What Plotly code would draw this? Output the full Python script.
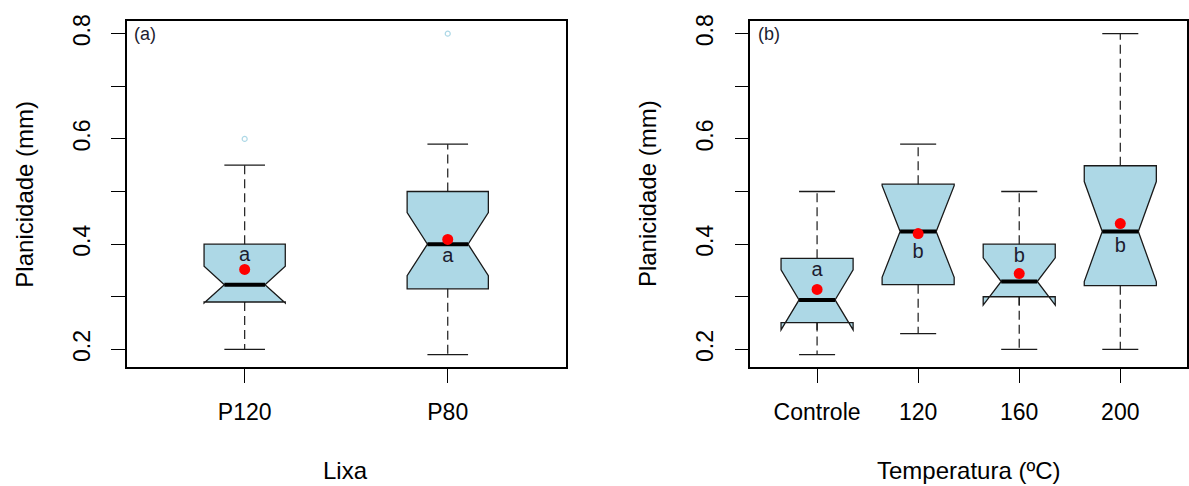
import plotly.graph_objects as go

W, H = 1189, 486

# ---------------- data: panel (a) Lixa ----------------
groups_a = ["P120", "P80"]
q1_a = [0.290, 0.315]
med_a = [0.323, 0.400]
q3_a = [0.400, 0.500]
lo_a = [0.200, 0.190]
hi_a = [0.550, 0.590]
notch_a = [0.035, 0.060]
mean_a = [0.352, 0.409]
out_grp_a = ["P120", "P80"]
out_val_a = [0.600, 0.800]
letters_a = ["a", "a"]
letter_y_a = [0.378, 0.375]

# ---------------- data: panel (b) Temperatura ----------------
groups_b = ["Controle", "120", "160", "200"]
q1_b = [0.251, 0.323, 0.300, 0.321]
med_b = [0.294, 0.424, 0.329, 0.424]
q3_b = [0.373, 0.514, 0.400, 0.549]
lo_b = [0.190, 0.230, 0.200, 0.200]
hi_b = [0.500, 0.590, 0.500, 0.800]
notch_b = [0.057, 0.087, 0.045, 0.095]
mean_b = [0.314, 0.420, 0.344, 0.439]
letters_b = ["a", "b", "b", "b"]
letter_y_b = [0.349, 0.3825, 0.375, 0.395]

y_ticks = [0.2, 0.3, 0.4, 0.5, 0.6, 0.7, 0.8]
y_tick_labels = ["0.2", "", "0.4", "", "0.6", "", "0.8"]

FONT = "Liberation Sans, Arial, sans-serif"
BOX_FILL = "lightblue"
EDGE = "#1a1a1a"

fig = go.Figure()


def add_panel(groups, q1, med, q3, lo, hi, notch, mean, letters, letter_y,
              width, xa, ya, out_grp=None, out_val=None):
    pos = list(range(1, len(groups) + 1))
    cap = width / 4.0
    # dashed whiskers
    wx, wy = [], []
    for p, a, b, c, d in zip(pos, q1, lo, q3, hi):
        wx += [p, p, None, p, p, None]
        wy += [c, d, None, a, b, None]
    fig.add_trace(go.Scatter(x=wx, y=wy, mode="lines", xaxis=xa, yaxis=ya,
                             line=dict(color=EDGE, width=1.2, dash="9px,5px"),
                             hoverinfo="skip", showlegend=False))
    # whisker caps
    cx, cy = [], []
    for p, b, d in zip(pos, lo, hi):
        cx += [p - cap, p + cap, None, p - cap, p + cap, None]
        cy += [d, d, None, b, b, None]
    fig.add_trace(go.Scatter(x=cx, y=cy, mode="lines", xaxis=xa, yaxis=ya,
                             line=dict(color=EDGE, width=1.3),
                             hoverinfo="skip", showlegend=False))
    # notched boxes
    fig.add_trace(go.Box(x=pos, q1=q1, median=med, q3=q3,
                         lowerfence=q1, upperfence=q3, notchspan=notch,
                         notched=True, notchwidth=0.25, width=width,
                         whiskerwidth=0, orientation="v",
                         fillcolor=BOX_FILL, line=dict(color=EDGE, width=1.3),
                         boxpoints=False, xaxis=xa, yaxis=ya,
                         hoverinfo="skip", showlegend=False))
    # thick medians
    mx, my = [], []
    for p, m in zip(pos, med):
        mx += [p - cap, p + cap, None]
        my += [m, m, None]
    fig.add_trace(go.Scatter(x=mx, y=my, mode="lines", xaxis=xa, yaxis=ya,
                             line=dict(color="black", width=4),
                             hoverinfo="skip", showlegend=False))
    # outliers
    if out_grp:
        ox = [groups.index(g) + 1 for g in out_grp]
        fig.add_trace(go.Scatter(x=ox, y=out_val, mode="markers", xaxis=xa, yaxis=ya,
                                 marker=dict(symbol="circle-open", size=5,
                                             color="lightblue", line=dict(width=1.2)),
                                 hoverinfo="skip", showlegend=False))
    # means
    fig.add_trace(go.Scatter(x=pos, y=mean, mode="markers", xaxis=xa, yaxis=ya,
                             marker=dict(symbol="circle", size=11, color="red"),
                             hoverinfo="skip", showlegend=False))
    # letters
    fig.add_trace(go.Scatter(x=pos, y=letter_y, mode="text", text=letters,
                             xaxis=xa, yaxis=ya,
                             textfont=dict(family=FONT, size=20, color="#1c1c30"),
                             hoverinfo="skip", showlegend=False))
    return pos


pos_a = add_panel(groups_a, q1_a, med_a, q3_a, lo_a, hi_a, notch_a, mean_a,
                  letters_a, letter_y_a, 0.40, "x", "y", out_grp_a, out_val_a)
pos_b = add_panel(groups_b, q1_b, med_b, q3_b, lo_b, hi_b, notch_b, mean_b,
                  letters_b, letter_y_b, 0.713, "x2", "y2")

y_dom = [1 - 366 / H, 1 - 15 / H]

common_x = dict(ticks="outside", ticklen=14, tickwidth=1.3, tickcolor="black",
                showline=True, mirror=True, linecolor="black", linewidth=1.5,
                showgrid=False, zeroline=False,
                tickfont=dict(family=FONT, size=23, color="black"),
                ticklabelstandoff=9)
common_y = dict(ticks="outside", ticklen=14, tickwidth=1.3, tickcolor="black",
                showline=True, mirror=True, linecolor="black", linewidth=1.5,
                showgrid=False, zeroline=False, range=[0.1656, 0.8244],
                tickvals=y_ticks, ticktext=y_tick_labels, tickangle=-90,
                tickfont=dict(family=FONT, size=23, color="black"),
                ticklabelstandoff=12, domain=y_dom)

fig.update_layout(
    width=W, height=H,
    margin=dict(l=0, r=0, t=0, b=0),
    paper_bgcolor="white", plot_bgcolor="white",
    showlegend=False,
    xaxis=dict(domain=[127 / W, 566 / W], range=[0.42, 2.58], anchor="y",
               tickvals=pos_a, ticktext=groups_a, **common_x),
    yaxis=dict(anchor="x", **common_y),
    xaxis2=dict(domain=[751 / W, 1188 / W], range=[0.34, 4.66], anchor="y2",
                tickvals=pos_b, ticktext=groups_b, **common_x),
    yaxis2=dict(anchor="x2", **common_y),
)

ann = []
for xc in (25, 648):
    ann.append(dict(text="Planicidade (mm)", x=xc / W, y=1 - 190 / H, xref="paper", yref="paper",
                    textangle=-90, showarrow=False, xanchor="center", yanchor="middle",
                    font=dict(family=FONT, size=24, color="black")))
ann.append(dict(text="Lixa", x=346 / W, y=1 - 470 / H, xref="paper", yref="paper",
                showarrow=False, xanchor="center", yanchor="middle",
                font=dict(family=FONT, size=24, color="black")))
ann.append(dict(text="Temperatura (ºC)", x=969.5 / W, y=1 - 470 / H, xref="paper", yref="paper",
                showarrow=False, xanchor="center", yanchor="middle",
                font=dict(family=FONT, size=24, color="black")))
ann.append(dict(text="(a)", x=132 / W, y=1 - 28.5 / H, xref="paper", yref="paper",
                showarrow=False, xanchor="left", yanchor="middle",
                font=dict(family=FONT, size=18, color="#1c1c30")))
ann.append(dict(text="(b)", x=757 / W, y=1 - 28.5 / H, xref="paper", yref="paper",
                showarrow=False, xanchor="left", yanchor="middle",
                font=dict(family=FONT, size=18, color="#1c1c30")))
fig.update_layout(annotations=ann)

fig.write_html("out.html")
